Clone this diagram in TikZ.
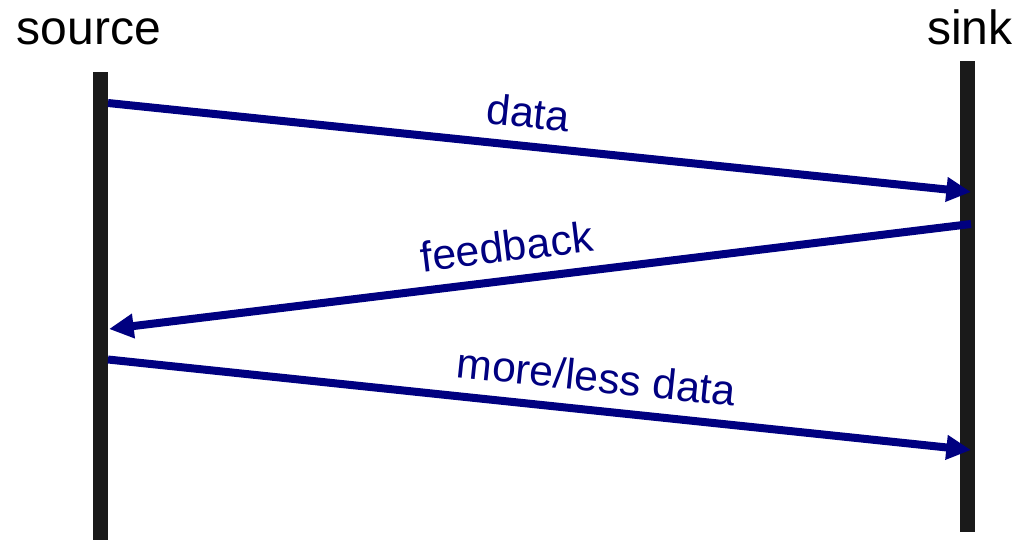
\documentclass[tikz,border=0pt]{standalone}
\usepackage{fontspec}
\setmainfont{Liberation Sans}
\usetikzlibrary{arrows.meta,positioning}
\definecolor{MsgCol}{HTML}{000080}
\definecolor{LifeCol}{HTML}{1A1A1A}
\tikzset{
  life line/.style={
    LifeCol,
    line width=11.25pt,
    },
  party/.style={
    inner sep=0pt,
    anchor=base,
    font=\fontsize{36}{40}\selectfont,
    },
  msg label/.style={
    MsgCol,
    sloped,
    above=11pt,
    inner sep=0pt,
    text depth=0pt,
    font=\fontsize{32}{36}\selectfont,
    },
}
\tikzstyle{Msg} = [-{Triangle[length=18.5pt,width=17.5pt]},MsgCol,line width=6pt]

\begin{document}
\begin{tikzpicture}[x=0.75pt,y=-0.75pt]

    \useasboundingbox (0,0) rectangle (1016,540);

    % Parties
    \node[party] (source) at (89,44) {source};
    \node[party] (sink) at (970,44) {sink};

    \coordinate (srcTop) at (100.5,72);
    \coordinate (srcBot) at (100.5,540);
    \coordinate (snkTop) at (967.5,61);
    \coordinate (snkBot) at (967.5,532);

    \draw[life line] (srcTop) -- (srcBot);
    \draw[life line] (snkTop) -- (snkBot);

    % Messages
    \coordinate (d0) at (108,103);
    \coordinate (d1) at (971,192);
    \coordinate (f0) at (971,224);
    \coordinate (f1) at (109,329);
    \coordinate (m0) at (108,359.5);
    \coordinate (m1) at (971,450);

    \draw[Msg] (d0) -- node[msg label,pos=.483] (data) {data} (d1);
    \draw[Msg] (f0) -- node[msg label,pos=.534] (feedback) {feedback} (f1);
    \draw[Msg] (m0) -- node[msg label,pos=.562] (more) {more/less data} (m1);

\end{tikzpicture}
\end{document}
